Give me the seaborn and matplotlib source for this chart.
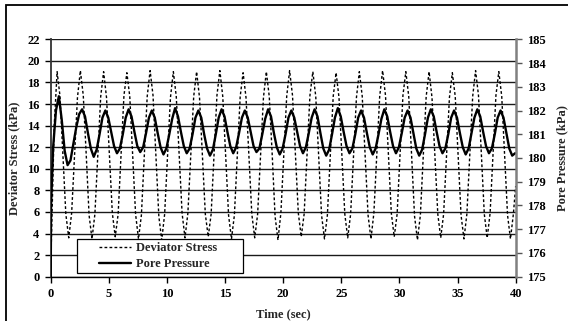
import numpy as np
import pandas as pd
import matplotlib
matplotlib.use("Agg")
import matplotlib.pyplot as plt
from matplotlib.lines import Line2D
from matplotlib.legend_handler import HandlerLine2D
from matplotlib.patches import Rectangle
import seaborn as sns

# ---- data -------------------------------------------------------------
# deviator stress (kPa), logged every 0.25 s after the first two readings
dev_time_start = 0.05
dev_step = 0.25
dev_kpa = [
    0.0, 3.0, 14.0,
    19.0, 16.7, 11.3, 5.8, 3.6, 5.9, 11.2, 16.6,
    19.1, 16.8, 11.4, 5.7, 3.5, 5.8, 11.3, 16.7,
    19.0, 16.6, 11.2, 5.9, 3.7, 5.8, 11.4, 16.8,
    18.9, 16.7, 11.3, 5.8, 3.5, 5.7, 11.3, 16.7,
    19.1, 16.8, 11.2, 5.6, 3.4, 5.8, 11.2, 16.6,
    19.0, 16.7, 11.4, 5.9, 3.6, 5.9, 11.3, 16.7,
    19.0, 16.6, 11.3, 5.8, 3.7, 5.8, 11.4, 16.8,
    19.1, 16.7, 11.2, 5.7, 3.5, 5.7, 11.3, 16.7,
    18.9, 16.6, 11.3, 5.8, 3.6, 5.8, 11.2, 16.6,
    19.0, 16.7, 11.4, 5.6, 3.4, 5.9, 11.3, 16.7,
    19.1, 16.8, 11.3, 5.9, 3.7, 5.8, 11.4, 16.8,
    19.0, 16.7, 11.2, 5.7, 3.5, 5.7, 11.3, 16.7,
    18.9, 16.6, 11.3, 5.8, 3.6, 5.8, 11.2, 16.6,
    19.0, 16.7, 11.3, 5.7, 3.5, 5.9, 11.3, 16.7,
    19.1, 16.8, 11.4, 5.9, 3.7, 5.8, 11.4, 16.8,
    19.0, 16.7, 11.2, 5.6, 3.4, 5.7, 11.3, 16.7,
    19.0, 16.6, 11.3, 5.8, 3.6, 5.8, 11.2, 16.6,
    18.9, 16.7, 11.3, 5.7, 3.5, 5.8, 11.3, 16.7,
    19.1, 16.8, 11.4, 5.8, 3.6, 5.9, 11.4, 16.8,
    19.0, 16.7, 11.3, 5.7, 3.5, 5.8,
    8.4,
]

# pore pressure (kPa), logged every 0.25 s after the first two readings
pore_time_start = 0.20
pore_step = 0.25
pore_kpa = [
    175.0, 178.0,
    180.4, 182.0, 182.6, 181.6, 180.3, 179.7, 179.9, 180.6, 181.3, 181.85,
    182.05, 181.75, 181.05, 180.4, 180.05, 180.35, 181.0, 181.7,
    182.0, 181.7, 181.1, 180.5, 180.2, 180.4, 181.0, 181.7,
    182.05, 181.75, 181.1, 180.5, 180.25, 180.45, 181.05, 181.7,
    182.0, 181.7, 181.05, 180.45, 180.15, 180.4, 181.0, 181.65,
    182.1, 181.75, 181.1, 180.5, 180.2, 180.4, 181.0, 181.7,
    182.0, 181.7, 181.0, 180.4, 180.1, 180.35, 181.0, 181.7,
    182.05, 181.75, 181.1, 180.5, 180.2, 180.45, 181.05, 181.7,
    182.0, 181.7, 181.1, 180.5, 180.25, 180.4, 181.0, 181.65,
    182.05, 181.75, 181.05, 180.45, 180.15, 180.4, 181.0, 181.7,
    182.0, 181.7, 181.1, 180.5, 180.2, 180.45, 181.05, 181.7,
    182.05, 181.75, 181.05, 180.4, 180.1, 180.35, 181.0, 181.7,
    182.1, 181.75, 181.1, 180.5, 180.2, 180.4, 181.0, 181.7,
    182.0, 181.7, 181.05, 180.45, 180.15, 180.4, 181.0, 181.65,
    182.05, 181.75, 181.1, 180.5, 180.2, 180.45, 181.05, 181.7,
    182.0, 181.7, 181.05, 180.4, 180.1, 180.35, 181.0, 181.7,
    182.05, 181.75, 181.1, 180.5, 180.2, 180.4, 181.0, 181.7,
    182.0, 181.7, 181.05, 180.45, 180.15, 180.4, 181.05, 181.7,
    182.05, 181.75, 181.1, 180.5, 180.2, 180.4, 181.0, 181.7,
    182.0, 181.7, 181.05, 180.4, 180.1, 180.2,
]

x_ticks = [0, 5, 10, 15, 20, 25, 30, 35, 40]
left_ticks = [0, 2, 4, 6, 8, 10, 12, 14, 16, 18, 20, 22]
right_ticks = [175, 176, 177, 178, 179, 180, 181, 182, 183, 184, 185]
series_names = ["Deviator Stress", "Pore Pressure"]

# sample times
n_dev_grid = len(dev_kpa) - 2
dev_time = np.concatenate([[0.0], dev_time_start + dev_step * np.arange(n_dev_grid), [40.0]])
n_pore_grid = len(pore_kpa) - 2
pore_time = np.concatenate([[0.0, 0.03], pore_time_start + pore_step * np.arange(n_pore_grid)])

dev_df = pd.DataFrame({"time": dev_time, "value": dev_kpa})
pore_df = pd.DataFrame({"time": pore_time, "value": pore_kpa})

# ---- style ------------------------------------------------------------
sns.set_theme(style="white")
plt.rcParams["font.family"] = ["Liberation Serif", "DejaVu Serif"]
plt.rcParams["font.weight"] = "bold"
plt.rcParams["axes.labelweight"] = "bold"

fig = plt.figure(figsize=(5.68, 3.21), dpi=100)
ax = fig.add_axes([0.0893, 0.138, 0.8186, 0.7396])
ax2 = ax.twinx()

sns.lineplot(data=dev_df, x="time", y="value", ax=ax, color="black",
             linewidth=1.0, linestyle=(0, (2.0, 1.6)), estimator=None, sort=False)
sns.lineplot(data=pore_df, x="time", y="value", ax=ax2, color="black",
             linewidth=1.7, estimator=None, sort=False)

ax.set_xlim(0, 40)
ax.set_ylim(0, 22)
ax2.set_ylim(175, 185)
ax.set_xticks(x_ticks)
ax.set_yticks(left_ticks)
ax2.set_yticks(right_ticks)

ax.grid(axis="y", color="#1a1a1a", linewidth=1.0)
ax.grid(axis="x", visible=False)
ax2.grid(False)
ax.set_axisbelow(True)

tick_font = 9
ax.tick_params(axis="both", direction="out", length=4, width=1.0, colors="black",
               labelsize=tick_font, pad=4, left=True, bottom=True)
ax2.tick_params(axis="y", direction="out", length=4, width=1.0, colors="#555555",
                labelcolor="black", labelsize=tick_font, pad=4, right=True)
for lab in ax.get_xticklabels() + ax.get_yticklabels() + ax2.get_yticklabels():
    lab.set_fontweight("bold")

for s in ["top"]:
    ax.spines[s].set_visible(False)
    ax2.spines[s].set_visible(False)
ax2.spines["left"].set_visible(False)
ax2.spines["bottom"].set_visible(False)
ax.spines["right"].set_visible(False)
ax.spines["left"].set_color("#333333")
ax.spines["left"].set_linewidth(1.3)
ax.spines["bottom"].set_color("black")
ax.spines["bottom"].set_linewidth(1.0)
ax2.spines["right"].set_color("#808080")
ax2.spines["right"].set_linewidth(1.8)

ax.set_xlabel("Time (sec)", fontsize=9, fontweight="bold", labelpad=6)
ax.set_ylabel("Deviator Stress (kPa)", fontsize=9, fontweight="bold", labelpad=5)
ax2.set_ylabel("Pore Pressure (kPa)", fontsize=9, fontweight="bold", labelpad=8)


class OffsetLineHandler(HandlerLine2D):
    """Draw the legend line sample in the right part of the handle box."""

    def get_xdata(self, legend, xdescent, ydescent, width, height, fontsize):
        x0 = -xdescent + 0.38 * width
        x1 = width - xdescent
        xs = np.array([x0, x1])
        return xs, xs


handles = [
    Line2D([], [], color="black", linewidth=1.0, linestyle=(0, (2.0, 1.6))),
    Line2D([], [], color="black", linewidth=1.7),
]
leg = ax2.legend(handles, series_names, loc="lower left",
                 bbox_to_anchor=(0.056, 0.0143, 0.358, 0.14), mode="expand",
                 borderaxespad=0, frameon=True, fancybox=False, shadow=False,
                 fontsize=9, prop={"weight": "bold", "size": 9},
                 handlelength=4.1, handletextpad=0.4, borderpad=0.25,
                 labelspacing=0.3,
                 handler_map={h: OffsetLineHandler() for h in handles})
leg.get_frame().set_edgecolor("black")
leg.get_frame().set_linewidth(0.9)
leg.get_frame().set_facecolor("white")
leg.get_frame().set_alpha(1.0)

# outer frame around the figure
fig.patches.append(Rectangle((6 / 568, -0.05), 1.2, 0.9854 + 0.05,
                             transform=fig.transFigure, fill=False,
                             edgecolor="black", linewidth=1.3))

fig.savefig("out.png", dpi=100, facecolor="white")
